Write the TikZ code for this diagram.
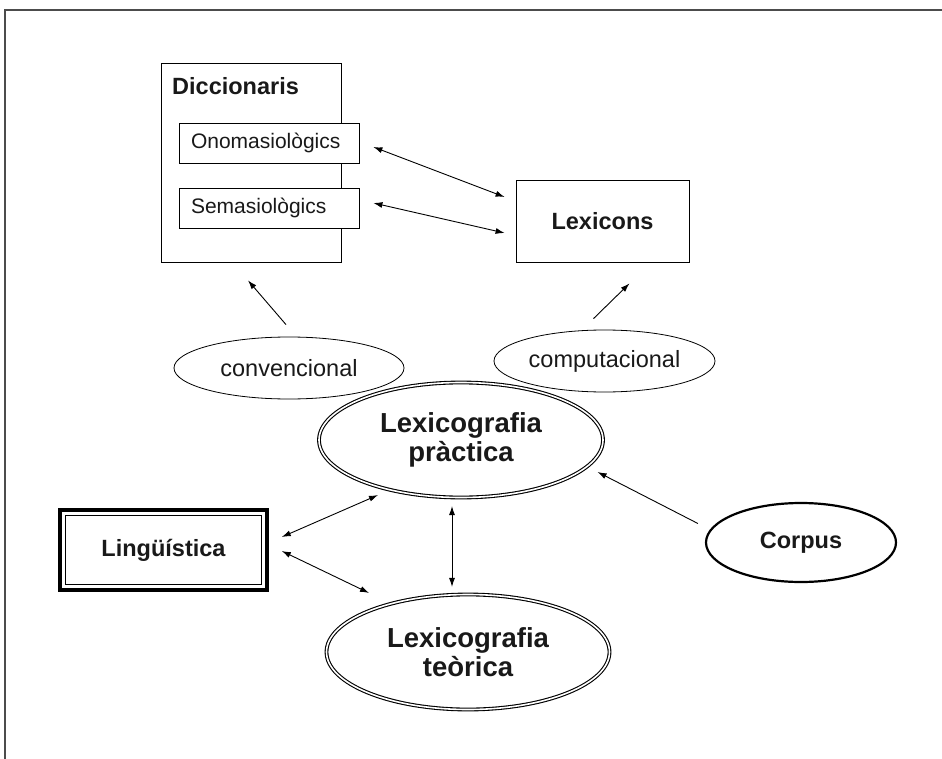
\documentclass[tikz,border=0pt]{standalone}
\usepackage{fontspec}
\setmainfont{Liberation Sans}
\usetikzlibrary{shapes.geometric,arrows.meta}
\begin{document}
\begin{tikzpicture}[x=1pt, y=-1pt, >={Latex[length=9pt,width=6pt]},
  box/.style={draw, line width=0.8pt, fill=white, inner sep=0pt, text=black!90},
  sub/.style={box, minimum height=40pt, text width=156pt, inner xsep=12pt, align=left, font=\fontsize{21}{25}\selectfont},
  oval/.style={ellipse, draw, line width=0.8pt, inner sep=0pt, fill=white, text=black!90},
  small/.style={font=\fontsize{23.5}{28}\selectfont},
  bold/.style={font=\fontsize{23.5}{28}\selectfont\bfseries},
  big/.style={font=\fontsize{27.5}{28.5}\selectfont\bfseries, align=center},
  twin/.style={double, double distance=1.6pt, line width=1.1pt},
  link/.style={<->, line width=0.9pt}]
\useasboundingbox (0,0) rectangle (942,759);
% frame
\draw[line width=2pt, black!70] (5,759) -- (5,10) -- (942,10);
% boxes
\node (dicc) at (251,162.5) [box, minimum width=180pt, minimum height=199pt] {};
\node (dtitle) at (172,86) [anchor=west, inner sep=0pt, bold, text=black!90] {Diccionaris};
\node (ono) at (269,143) [sub] {Onomasiològics};
\node (sem) at (269,208) [sub] {Semasiològics};
\node (lex) at (602.5,221) [box, minimum width=173pt, minimum height=82pt, bold] {Lexicons};
\node (ling) at (163.5,550) [box, line width=3.5pt, minimum width=207pt, minimum height=80pt, bold] {Lingüística};
\draw[line width=0.8pt] ([shift={(7,7)}]ling.north west) rectangle ([shift={(-7,-7)}]ling.south east);
% ellipses
\node (conv) at (289,368) [oval, minimum width=230pt, minimum height=62pt, small] {convencional};
\node (comp) at (604.5,361) [oval, minimum width=221pt, minimum height=62pt, small] {computacional};
\node (prac) at (461,440) [oval, twin, minimum width=284pt, minimum height=115pt, big] {Lexicografia\\pràctica};
\node (teor) at (468,652) [oval, twin, minimum width=283pt, minimum height=115pt, big] {Lexicografia\\teòrica};
\node (corpus) at (801,542.5) [oval, line width=2.2pt, minimum width=190pt, minimum height=79pt, bold] {Corpus};
% arrows
\draw[link] ([shift={(14,4)}]ono.east) -- ([shift={(-11,-24)}]lex.west);
\draw[link] ([shift={(14,-5)}]sem.east) -- ([shift={(-11,12)}]lex.west);
\draw[->, line width=0.9pt] ([shift={(-3,-12)}]conv.north) -- ([shift={(-3,18)}]dicc.south);
\draw[->, line width=0.9pt] ([shift={(-11,-11)}]comp.north) -- ([shift={(27,21)}]lex.south);
\draw[->, line width=0.9pt] ([shift={(-7,-19)}]corpus.west) -- ([shift={(-6,32)}]prac.east);
\draw[link] ([shift={(13,-13)}]ling.east) -- ([shift={(-83,-3)}]prac.south);
\draw[link] ([shift={(13,1)}]ling.east) -- ([shift={(-99,-1)}]teor.north);
\draw[link] ([shift={(-9,8)}]prac.south) -- ([shift={(-16,-7)}]teor.north);
\end{tikzpicture}
\end{document}
